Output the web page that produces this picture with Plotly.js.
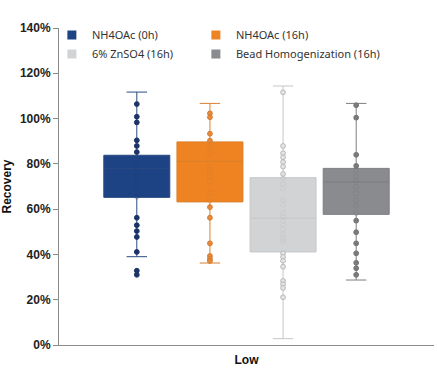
<!DOCTYPE html>
<html>
<head>
<meta charset="utf-8">
<script src="https://cdn.plot.ly/plotly-3.0.1.min.js"></script>
<style>html,body{margin:0;padding:0;background:#fff;}#chart{width:437px;height:368px;}</style>
</head>
<body>
<div id="chart"></div>
<script>
// ---- data ----
var category = 'Low';
var seriesNames = ['NH4OAc (0h)', 'NH4OAc (16h)', '6% ZnSO4 (16h)', 'Bead Homogenization (16h)'];
var q1 = [65.2, 63.2, 41.1, 57.7];
var medians = [78.0, 81.1, 56.0, 72.0];
var q3 = [83.8, 89.7, 73.9, 78.0];
var lowerFence = [39.0, 36.2, 2.8, 28.7];
var upperFence = [111.7, 106.7, 114.4, 106.7];

var pointsNH4OAc0h = [106.4, 100.8, 98.3, 90.4, 87.9, 85.2, 78.5, 74.7, 70.5, 65.5, 56.2, 52.9, 50.3, 47.7, 41.1, 32.8, 31.0];
var pointsNH4OAc16h = [102.3, 100.6, 93.3, 90.2, 87.6, 84.7, 79.1, 77.6, 76.1, 74.3, 72.1, 67.3, 63.7, 60.9, 56.2, 44.9, 39.3, 38.0, 37.1];
var pointsZnSO4 = [111.6, 87.9, 84.7, 82.9, 80.8, 78.8, 75.5, 73.8, 71.1, 69.2, 64.0, 62.0, 58.4, 56.7, 54.9, 52.9, 51.1, 49.0, 46.9, 45.8, 40.5, 38.9, 37.2, 34.6, 28.3, 26.8, 25.2, 21.1];
var pointsBead = [105.9, 100.4, 84.0, 79.1, 77.0, 74.3, 72.6, 69.9, 67.0, 64.0, 61.5, 58.2, 54.9, 49.8, 44.9, 40.5, 36.3, 33.9, 31.0];
var yTicks = [0, 20, 40, 60, 80, 100, 120, 140];
var yTickText = yTicks.map(function (v) { return v + '%'; });

// ---- styles ----
var fills = ['#1e4385', '#ef8322', '#d2d3d5', '#8a8b8e'];
var lines = ['#2a4a80', '#d9802e', '#c6c7c9', '#7d7e81'];
var ptFill = ['#1b3466', '#e98a3a', '#e4e4e4', '#7b7b7d'];
var ptLine = ['#1b3466', '#d07a30', '#b8b8b8', '#727274'];
var allPoints = [pointsNH4OAc0h, pointsNH4OAc16h, pointsZnSO4, pointsBead];
var legendOf = ['legend', 'legend2', 'legend', 'legend2'];

var n = seriesNames.length;
var spacing = 0.39, boxW = 0.352;
var traces = [];
for (var i = 0; i < n; i++) {
  var pos = (i - (n - 1) / 2) * spacing;
  traces.push({
    type: 'box', name: seriesNames[i], x: [pos], showlegend: false,
    q1: [q1[i]], median: [medians[i]], q3: [q3[i]],
    lowerfence: [lowerFence[i]], upperfence: [upperFence[i]],
    width: boxW, whiskerwidth: 0.31,
    fillcolor: fills[i], line: {color: lines[i], width: 1},
    boxpoints: false, hoverinfo: 'skip'
  });
}
for (var j = 0; j < n; j++) {
  var p = (j - (n - 1) / 2) * spacing;
  var inY = [], outY = [];
  allPoints[j].forEach(function (v) {
    if (v > q1[j] && v < q3[j]) inY.push(v); else outY.push(v);
  });
  traces.push({
    type: 'scatter', mode: 'markers', showlegend: false, hoverinfo: 'skip',
    x: outY.map(function () { return p; }), y: outY,
    marker: {size: 4.8, color: ptFill[j], line: {color: ptLine[j], width: 1}}
  });
  traces.push({
    type: 'scatter', mode: 'markers', showlegend: false, hoverinfo: 'skip',
    x: inY.map(function () { return p; }), y: inY,
    marker: {size: 4.8, color: 'rgba(0,0,0,0)', line: {color: ptLine[j], width: 1}}, opacity: 0.3
  });
}
// legend entries (square swatches), two columns
for (var k = 0; k < n; k++) {
  traces.push({
    type: 'scatter', mode: 'markers', name: seriesNames[k], x: [null], y: [null],
    legend: legendOf[k],
    marker: {symbol: 'square', size: 9, color: fills[k]}, hoverinfo: 'skip'
  });
}

var legendBase = {
  orientation: 'v', xanchor: 'left', y: 1.024, yanchor: 'top',
  font: {family: 'Noto Sans, sans-serif', size: 11, color: '#333'},
  itemwidth: 30, traceorder: 'normal', bgcolor: 'rgba(0,0,0,0)'
};
var legend1 = Object.assign({}, legendBase, {x: -0.019});
var legend2 = Object.assign({}, legendBase, {x: 0.365});

var layout = {
  width: 437, height: 368,
  margin: {l: 59, r: 3, t: 28, b: 23},
  paper_bgcolor: '#ffffff', plot_bgcolor: '#ffffff',
  showlegend: true,
  font: {family: 'Liberation Sans, Arial, sans-serif', color: '#222'},
  legend: legend1,
  legend2: legend2,
  xaxis: {
    range: [-1, 1], tickvals: [0], ticktext: [category], ticks: '', ticklabelstandoff: 4,
    showgrid: false, zeroline: false, showline: true, linecolor: '#8c8c8c', linewidth: 1,
    tickfont: {size: 12, color: '#111', family: 'Liberation Sans, Arial, sans-serif', weight: 'bold'},
    fixedrange: true
  },
  yaxis: {
    range: [0, 140], tickmode: 'array', tickvals: yTicks, ticktext: yTickText, ticks: 'outside', ticklen: 5,
    tickcolor: '#8c8c8c', showgrid: false, zeroline: false, showline: true, linecolor: '#8c8c8c', linewidth: 1,
    tickfont: {size: 12, color: '#222', family: 'Liberation Sans, Arial, sans-serif', weight: 'bold'},
    title: {text: 'Recovery', standoff: 10, font: {size: 12, color: '#111', family: 'Liberation Sans, Arial, sans-serif', weight: 'bold'}},
    fixedrange: true
  }
};

Plotly.newPlot('chart', traces, layout, {displayModeBar: false, staticPlot: true});
</script>
</body>
</html>
